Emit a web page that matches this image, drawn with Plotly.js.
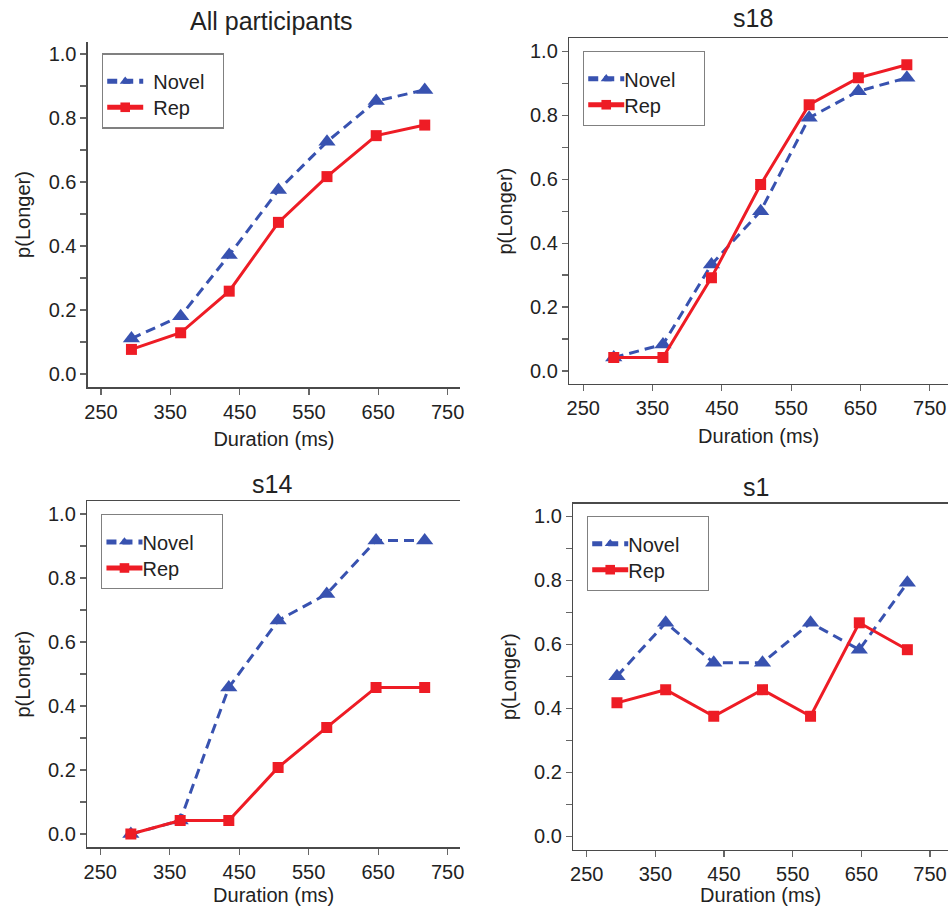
<!DOCTYPE html>
<html>
<head>
<meta charset="utf-8">
<script src="https://cdn.plot.ly/plotly-3.0.1.min.js"></script>
<style>html,body{margin:0;padding:0;background:#fff}#chart{width:948px;height:906px}</style>
</head>
<body>
<div id="chart"></div>
<script>
const durations = [294, 365, 435, 506, 576, 647, 717];
const panelTitles = ["All participants", "s18", "s14", "s1"];
const seriesNames = ["Novel", "Rep"];
const xTickVals = [250, 350, 450, 550, 650, 750];
const yTickVals = [0, 0.2, 0.4, 0.6, 0.8, 1.0];
const yTickText = ["0.0", "0.2", "0.4", "0.6", "0.8", "1.0"];
const yMinorTicks = [0.1, 0.3, 0.5, 0.7, 0.9];

const novelAll = [0.111, 0.181, 0.372, 0.575, 0.726, 0.853, 0.888];
const repAll   = [0.077, 0.129, 0.259, 0.474, 0.617, 0.745, 0.778];
const novelS18 = [0.042, 0.083, 0.333, 0.500, 0.792, 0.875, 0.917];
const repS18   = [0.042, 0.042, 0.292, 0.583, 0.833, 0.917, 0.958];
const novelS14 = [0.000, 0.042, 0.458, 0.667, 0.750, 0.917, 0.917];
const repS14   = [0.000, 0.042, 0.042, 0.208, 0.333, 0.458, 0.458];
const novelS1  = [0.500, 0.667, 0.542, 0.542, 0.667, 0.583, 0.792];
const repS1    = [0.417, 0.458, 0.375, 0.458, 0.375, 0.667, 0.583];

const novelSets = [novelAll, novelS18, novelS14, novelS1];
const repSets = [repAll, repS18, repS14, repS1];

const BLUE = '#3852b0';
const RED = '#ee1c25';
const FONT = 'Liberation Sans, Arial, Helvetica, sans-serif';
const AXC = '#4a4a4a';
const TKC = '#666';

// layout geometry (paper fractions)
const geo = [
  {xd:[0.0928,0.4852], yd:[0.5728,0.9536], xr:[231.3,767.8], yr:[-0.0406,1.0375], top:false, leg:[0.1073,0.9412], tt:[0.2869,0.9763]},
  {xd:[0.6005,1.0],    yd:[0.5762,0.9577], xr:[229.8,776.4], yr:[-0.0406,1.0406], top:true,  leg:[0.6147,0.9440], tt:[0.7943,0.9801]},
  {xd:[0.0921,0.4852], yd:[0.0651,0.4467], xr:[231.3,767.8], yr:[-0.0406,1.0397], top:true,  leg:[0.1065,0.4327], tt:[0.2869,0.4658]},
  {xd:[0.6048,1.0],    yd:[0.0621,0.4440], xr:[230.5,776.2], yr:[-0.042,1.039],   top:true,  leg:[0.6189,0.4308], tt:[0.7972,0.4630]}
];

const data = [];
const layout = {
  width: 948, height: 906,
  margin: {l:0, r:0, t:0, b:0},
  paper_bgcolor: '#fff', plot_bgcolor: '#fff',
  font: {family: FONT, size: 20, color: '#222'},
  showlegend: true,
  annotations: []
};

geo.forEach((g, i) => {
  const n = i === 0 ? '' : String(i + 1);
  const legName = 'legend' + n;
  data.push({
    x: durations, y: novelSets[i], type: 'scatter', mode: 'lines+markers',
    name: seriesNames[0], xaxis: 'x' + n, yaxis: 'y' + n, legend: legName,
    line: {color: BLUE, width: 3, dash: '10px,6px'},
    marker: {symbol: 'triangle-up', size: 15, color: BLUE}
  });
  data.push({
    x: durations, y: repSets[i], type: 'scatter', mode: 'lines+markers',
    name: seriesNames[1], xaxis: 'x' + n, yaxis: 'y' + n, legend: legName,
    line: {color: RED, width: 3},
    marker: {symbol: 'square', size: 11, color: RED}
  });
  layout['xaxis' + n] = {
    domain: g.xd, range: g.xr, anchor: 'y' + n,
    tickvals: xTickVals, ticks: 'outside', ticklen: 6, tickwidth: 1.2, tickcolor: TKC,
    ticklabeloverflow: 'allow',
    showline: true, linecolor: AXC, linewidth: 1.5, mirror: g.top,
    showgrid: false, zeroline: false, fixedrange: true,
    tickfont: {family: FONT, size: 20, color: '#222'},
    title: {text: 'Duration (ms)', font: {family: FONT, size: 20, color: '#222'}, standoff: 10}
  };
  layout['yaxis' + n] = {
    domain: g.yd, range: g.yr, anchor: 'x' + n,
    tickvals: yTickVals, ticktext: yTickText, ticks: 'outside', ticklen: 6, tickwidth: 1.2, tickcolor: TKC,
    minor: {tickvals: yMinorTicks, ticks: 'outside', ticklen: 6, tickwidth: 1.2, tickcolor: TKC},
    showline: true, linecolor: AXC, linewidth: 1.5,
    showgrid: false, zeroline: false, fixedrange: true,
    tickfont: {family: FONT, size: 20, color: '#222'},
    title: {text: 'p(Longer)', font: {family: FONT, size: 20, color: '#222'}, standoff: 12}
  };
  layout[legName] = {
    x: g.leg[0], y: g.leg[1], xanchor: 'left', yanchor: 'top',
    bgcolor: '#fff', bordercolor: '#808080', borderwidth: 1.5,
    font: {family: FONT, size: 20, color: '#222'},
    itemsizing: 'constant', tracegroupgap: 0
  };
  layout.annotations.push({
    text: panelTitles[i], xref: 'paper', yref: 'paper', x: g.tt[0], y: g.tt[1],
    xanchor: 'center', yanchor: 'middle', showarrow: false,
    font: {family: FONT, size: 25, color: '#222'}
  });
});

// cosmetic adjustment of legend boxes to match the reference's wider legend layout
function styleLegends() {
  const legends = document.querySelectorAll('g.infolayer > g[class^="legend"]');
  legends.forEach(leg => {
    const bg = leg.querySelector('rect.bg');
    if (bg) { bg.setAttribute('width', 121); bg.setAttribute('height', 74); }
    const sb = leg.querySelector('g.scrollbox');
    if (sb) sb.removeAttribute('clip-path');
    const traces = leg.querySelectorAll('g.traces');
    let baseY = null;
    traces.forEach((t, k) => {
      const m = /translate\(\s*([-\d.]+)[ ,]+([-\d.]+)\s*\)/.exec(t.getAttribute('transform') || '');
      const tx = m ? parseFloat(m[1]) : 0;
      const ty = m ? parseFloat(m[2]) : 0;
      if (baseY === null) baseY = ty;
      t.setAttribute('transform', 'translate(' + tx + ',' + (baseY + 7 + 26 * k) + ')');
      const txt = t.querySelector('text.legendtext');
      if (txt) txt.setAttribute('x', 50);
      t.querySelectorAll('g.legendlines path').forEach(p => p.setAttribute('d', 'M4,0h36'));
      t.querySelectorAll('g.legendsymbols path.scatterpts').forEach(p => {
        p.setAttribute('transform', 'translate(22,0) scale(0.8)');
      });
    });
  });
}

Plotly.newPlot('chart', data, layout, {displayModeBar: false, staticPlot: true}).then(styleLegends);
</script>
</body>
</html>
